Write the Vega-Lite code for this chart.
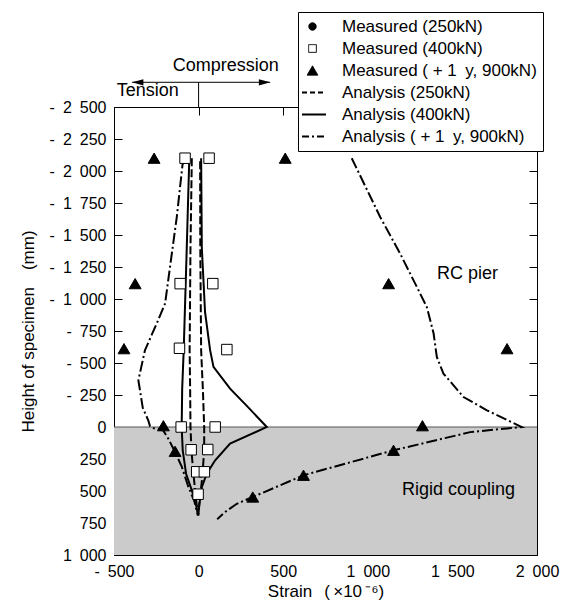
{
  "$schema": "https://vega.github.io/schema/vega-lite/v6.json",
  "width": 423,
  "height": 448,
  "autosize": "none",
  "padding": {"left": 114, "top": 107, "right": 36, "bottom": 55},
  "config": {
    "view": {"stroke": null},
    "font": "Liberation Sans",
    "axis": {"grid": false, "domainColor": "black", "tickColor": "black", "labelColor": "black", "titleColor": "black", "domainWidth": 1, "tickWidth": 1, "zindex": 1, "labelFont": "Liberation Sans", "titleFont": "Liberation Sans", "labelFontSize": 16, "titleFontSize": 17, "titleFontWeight": "normal", "labelFlush": false, "labelOverlap": false}
  },
  "datasets": {
    "region": [{"x1": -500, "x2": 2000, "y1": 0, "y2": 1000}],
    "zero": [{"x1": -500, "x2": 2000, "y": 0}],
    "pts": [
      {"series": "Measured (400kN)", "x": -80, "y": -2100},
      {"series": "Measured (400kN)", "x": 62, "y": -2100},
      {"series": "Measured (400kN)", "x": -109, "y": -1120},
      {"series": "Measured (400kN)", "x": 84, "y": -1120},
      {"series": "Measured (400kN)", "x": -113, "y": -615},
      {"series": "Measured (400kN)", "x": 167, "y": -605},
      {"series": "Measured (400kN)", "x": -103, "y": 0},
      {"series": "Measured (400kN)", "x": 98, "y": 0},
      {"series": "Measured (400kN)", "x": -44, "y": 178},
      {"series": "Measured (400kN)", "x": 54, "y": 176},
      {"series": "Measured (400kN)", "x": -11, "y": 350},
      {"series": "Measured (400kN)", "x": 34, "y": 350},
      {"series": "Measured (400kN)", "x": -3, "y": 525},
      {"series": "Measured ( + 1\u2002y, 900kN)", "x": -263, "y": -2100},
      {"series": "Measured ( + 1\u2002y, 900kN)", "x": 512, "y": -2100},
      {"series": "Measured ( + 1\u2002y, 900kN)", "x": -375, "y": -1120},
      {"series": "Measured ( + 1\u2002y, 900kN)", "x": 1123, "y": -1120},
      {"series": "Measured ( + 1\u2002y, 900kN)", "x": -441, "y": -612},
      {"series": "Measured ( + 1\u2002y, 900kN)", "x": 1823, "y": -612},
      {"series": "Measured ( + 1\u2002y, 900kN)", "x": -208, "y": -10},
      {"series": "Measured ( + 1\u2002y, 900kN)", "x": 1323, "y": -10},
      {"series": "Measured ( + 1\u2002y, 900kN)", "x": -139, "y": 190},
      {"series": "Measured ( + 1\u2002y, 900kN)", "x": 1152, "y": 182},
      {"series": "Measured ( + 1\u2002y, 900kN)", "x": 620, "y": 377},
      {"series": "Measured ( + 1\u2002y, 900kN)", "x": 320, "y": 547}
    ],
    "lines": [
      {"s": "A250", "b": "a", "i": 1, "x": -40, "y": -2100},
      {"s": "A250", "b": "a", "i": 2, "x": -48, "y": -1400},
      {"s": "A250", "b": "a", "i": 3, "x": -53, "y": -600},
      {"s": "A250", "b": "a", "i": 4, "x": -50, "y": -300},
      {"s": "A250", "b": "a", "i": 5, "x": -48, "y": 0},
      {"s": "A250", "b": "a", "i": 6, "x": -42, "y": 190},
      {"s": "A250", "b": "a", "i": 7, "x": -28, "y": 400},
      {"s": "A250", "b": "a", "i": 8, "x": -12, "y": 600},
      {"s": "A250", "b": "a", "i": 9, "x": -2, "y": 690},
      {"s": "A250", "b": "a", "i": 10, "x": 4, "y": 600},
      {"s": "A250", "b": "a", "i": 11, "x": 22, "y": 390},
      {"s": "A250", "b": "a", "i": 12, "x": 33, "y": 180},
      {"s": "A250", "b": "a", "i": 13, "x": 33, "y": 0},
      {"s": "A250", "b": "a", "i": 14, "x": 25, "y": -300},
      {"s": "A250", "b": "a", "i": 15, "x": 15, "y": -600},
      {"s": "A250", "b": "a", "i": 16, "x": 10, "y": -1400},
      {"s": "A250", "b": "a", "i": 17, "x": 9, "y": -2100},
      {"s": "A400", "b": "a", "i": 1, "x": -55, "y": -2100},
      {"s": "A400", "b": "a", "i": 2, "x": -70, "y": -1400},
      {"s": "A400", "b": "a", "i": 3, "x": -88, "y": -600},
      {"s": "A400", "b": "a", "i": 4, "x": -97, "y": -300},
      {"s": "A400", "b": "a", "i": 5, "x": -100, "y": 0},
      {"s": "A400", "b": "a", "i": 6, "x": -94, "y": 180},
      {"s": "A400", "b": "a", "i": 7, "x": -74, "y": 365},
      {"s": "A400", "b": "a", "i": 8, "x": -40, "y": 495},
      {"s": "A400", "b": "a", "i": 9, "x": -18, "y": 590},
      {"s": "A400", "b": "a", "i": 10, "x": -2, "y": 690},
      {"s": "A400", "b": "a", "i": 11, "x": 5, "y": 600},
      {"s": "A400", "b": "a", "i": 12, "x": 19, "y": 470},
      {"s": "A400", "b": "a", "i": 13, "x": 48, "y": 365},
      {"s": "A400", "b": "a", "i": 14, "x": 98, "y": 260},
      {"s": "A400", "b": "a", "i": 15, "x": 186, "y": 130},
      {"s": "A400", "b": "a", "i": 16, "x": 403, "y": 0},
      {"s": "A400", "b": "a", "i": 17, "x": 285, "y": -165},
      {"s": "A400", "b": "a", "i": 18, "x": 186, "y": -300},
      {"s": "A400", "b": "a", "i": 19, "x": 88, "y": -470},
      {"s": "A400", "b": "a", "i": 20, "x": 68, "y": -600},
      {"s": "A400", "b": "a", "i": 21, "x": 38, "y": -900},
      {"s": "A400", "b": "a", "i": 22, "x": 19, "y": -1400},
      {"s": "A400", "b": "a", "i": 23, "x": 15, "y": -2100},
      {"s": "A900", "b": "L", "i": 1, "x": -75, "y": -2100},
      {"s": "A900", "b": "L", "i": 2, "x": -95, "y": -2050},
      {"s": "A900", "b": "L", "i": 3, "x": -129, "y": -1640},
      {"s": "A900", "b": "L", "i": 4, "x": -169, "y": -1250},
      {"s": "A900", "b": "L", "i": 5, "x": -198, "y": -965},
      {"s": "A900", "b": "L", "i": 6, "x": -247, "y": -810},
      {"s": "A900", "b": "L", "i": 7, "x": -317, "y": -600},
      {"s": "A900", "b": "L", "i": 8, "x": -356, "y": -365},
      {"s": "A900", "b": "L", "i": 9, "x": -330, "y": -150},
      {"s": "A900", "b": "L", "i": 10, "x": -297, "y": -50},
      {"s": "A900", "b": "L", "i": 11, "x": -287, "y": -5},
      {"s": "A900", "b": "L", "i": 12, "x": -265, "y": 10},
      {"s": "A900", "b": "L", "i": 13, "x": -238, "y": 15},
      {"s": "A900", "b": "L", "i": 14, "x": -210, "y": 25},
      {"s": "A900", "b": "L", "i": 15, "x": -179, "y": 91},
      {"s": "A900", "b": "L", "i": 16, "x": -139, "y": 195},
      {"s": "A900", "b": "L", "i": 17, "x": -99, "y": 312},
      {"s": "A900", "b": "L", "i": 18, "x": -60, "y": 469},
      {"s": "A900", "b": "L", "i": 19, "x": -25, "y": 580},
      {"s": "A900", "b": "L", "i": 20, "x": -5, "y": 690},
      {"s": "A900", "b": "R", "i": 1, "x": 905, "y": -2100},
      {"s": "A900", "b": "R", "i": 2, "x": 1073, "y": -1641},
      {"s": "A900", "b": "R", "i": 3, "x": 1191, "y": -1355},
      {"s": "A900", "b": "R", "i": 4, "x": 1290, "y": -1094},
      {"s": "A900", "b": "R", "i": 5, "x": 1349, "y": -937},
      {"s": "A900", "b": "R", "i": 6, "x": 1389, "y": -730},
      {"s": "A900", "b": "R", "i": 7, "x": 1408, "y": -547},
      {"s": "A900", "b": "R", "i": 8, "x": 1447, "y": -417},
      {"s": "A900", "b": "R", "i": 9, "x": 1566, "y": -234},
      {"s": "A900", "b": "R", "i": 10, "x": 1704, "y": -130},
      {"s": "A900", "b": "R", "i": 11, "x": 1910, "y": 0},
      {"s": "A900", "b": "R", "i": 12, "x": 1605, "y": 40},
      {"s": "A900", "b": "R", "i": 13, "x": 1152, "y": 182},
      {"s": "A900", "b": "R", "i": 14, "x": 620, "y": 377},
      {"s": "A900", "b": "R", "i": 15, "x": 320, "y": 547},
      {"s": "A900", "b": "R", "i": 16, "x": 226, "y": 600},
      {"s": "A900", "b": "R", "i": 17, "x": 157, "y": 664},
      {"s": "A900", "b": "R", "i": 18, "x": 110, "y": 720}
    ],
    "notes": [
      {"x": 160, "y": -2818, "t": "Compression"},
      {"x": -300, "y": -2622, "t": "Tension"},
      {"x": 1589, "y": -1193, "t": "RC pier"},
      {"x": 1536, "y": 494, "t": "Rigid coupling"}
    ],
    "arrow": [
      {"x": -393, "x2": 423, "y": -2693, "y2": -2693},
      {"x": 0, "x2": 0, "y": -2693, "y2": -2500}
    ],
    "heads": [
      {"x": -360, "y": -2693, "d": "L"},
      {"x": 390, "y": -2693, "d": "R"}
    ]
  },
  "layer": [
    {
      "data": {"name": "region"},
      "mark": {"type": "rect", "fill": "#cbcbcb"},
      "encoding": {
        "x": {"field": "x1", "type": "quantitative", "scale": {"domain": [-500, 2000], "nice": false, "zero": false},
          "axis": {"orient": "bottom", "values": [-500, 0, 500, 1000, 1500, 2000], "tickSize": -8, "labelPadding": 16, "titlePadding": 4,
            "labelExpr": "(datum.value < 0 ? '-\u2002' : '') + replace(format(abs(datum.value), ','), ',', '\u2002')",
            "title": "Strain\u2002\u2009(\u2009\u00d710\u2009\u207b\u2076)"}},
        "x2": {"field": "x2"},
        "y": {"field": "y1", "type": "quantitative", "scale": {"domain": [-2500, 1000], "nice": false, "zero": false, "reverse": true},
          "axis": {"orient": "left", "values": [-2500, -2250, -2000, -1750, -1500, -1250, -1000, -750, -500, -250, 0, 250, 500, 750, 1000], "tickSize": -8, "labelPadding": 16, "titlePadding": 12,
            "labelExpr": "(datum.value < 0 ? '-\u2002' : '') + replace(format(abs(datum.value), ','), ',', '\u2002')",
            "title": "Height of specimen\u2003(mm)"}},
        "y2": {"field": "y2"}
      }
    },
    {
      "data": {"name": "zero"},
      "mark": {"type": "rule", "color": "#555555", "strokeWidth": 1},
      "encoding": {
        "x": {"field": "x1", "type": "quantitative", "scale": {"domain": [-500, 2000], "nice": false, "zero": false},
          "axis": {"orient": "top", "values": [-500, 0, 500, 1000, 1500, 2000], "tickSize": -8, "labels": false, "title": null}},
        "x2": {"field": "x2"},
        "y": {"field": "y", "type": "quantitative", "scale": {"domain": [-2500, 1000], "nice": false, "zero": false, "reverse": true},
          "axis": {"orient": "right", "values": [-2500, -2250, -2000, -1750, -1500, -1250, -1000, -750, -500, -250, 0, 250, 500, 750, 1000], "tickSize": -8, "labels": false, "title": null}}
      }
    },
    {
      "data": {"name": "lines"},
      "transform": [{"filter": "datum.s == 'A250'"}],
      "mark": {"type": "line", "color": "black", "strokeWidth": 2, "strokeDash": [8, 3]},
      "encoding": {
        "x": {"field": "x", "type": "quantitative", "axis": null},
        "y": {"field": "y", "type": "quantitative", "axis": null},
        "detail": {"field": "b"},
        "order": {"field": "i", "type": "quantitative"}
      }
    },
    {
      "data": {"name": "lines"},
      "transform": [{"filter": "datum.s == 'A400'"}],
      "mark": {"type": "line", "color": "black", "strokeWidth": 2},
      "encoding": {
        "x": {"field": "x", "type": "quantitative", "axis": null},
        "y": {"field": "y", "type": "quantitative", "axis": null},
        "detail": {"field": "b"},
        "order": {"field": "i", "type": "quantitative"}
      }
    },
    {
      "data": {"name": "lines"},
      "transform": [{"filter": "datum.s == 'A900'"}],
      "mark": {"type": "line", "color": "black", "strokeWidth": 2, "strokeDash": [11, 3, 2, 3]},
      "encoding": {
        "x": {"field": "x", "type": "quantitative", "axis": null},
        "y": {"field": "y", "type": "quantitative", "axis": null},
        "detail": {"field": "b"},
        "order": {"field": "i", "type": "quantitative"}
      }
    },
    {
      "data": {"name": "pts"},
      "mark": {"type": "point", "filled": true, "opacity": 1, "stroke": "black", "strokeWidth": 1},
      "encoding": {
        "x": {"field": "x", "type": "quantitative", "axis": null},
        "y": {"field": "y", "type": "quantitative", "axis": null},
        "fill": {"condition": {"test": "datum.series == 'Measured (400kN)'", "value": "white"}, "value": "black"},
        "size": {"condition": {"test": "datum.series == 'Measured (400kN)'", "value": 110}, "value": 140},
        "shape": {"condition": {"test": "datum.series == 'Measured (400kN)'", "value": "square"}, "value": "triangle-up"}
      }
    },
    {
      "data": {"name": "pts"},
      "transform": [{"filter": "false"}],
      "mark": {"type": "point", "filled": true, "opacity": 1, "stroke": "black"},
      "encoding": {
        "x": {"field": "x", "type": "quantitative", "axis": null},
        "y": {"field": "y", "type": "quantitative", "axis": null},
        "shape": {"field": "series", "type": "nominal",
          "scale": {
            "domain": ["Measured (250kN)", "Measured (400kN)", "Measured ( + 1\u2002y, 900kN)", "Analysis (250kN)", "Analysis (400kN)", "Analysis ( + 1\u2002y, 900kN)"],
            "range": ["circle", "square", "triangle-up", "M-1.4,0H1.8", "M-1.4,0H1.8", "M-1.4,0H1.8"]
          },
          "legend": {
            "orient": "none", "legendX": 184, "legendY": -95, "title": null,
            "padding": 6, "strokeColor": "black", "fillColor": "white", "cornerRadius": 0,
            "labelFontSize": 17, "labelFont": "Liberation Sans", "labelColor": "black",
            "labelOffset": 21, "rowPadding": 4, "labelLimit": 400, "symbolOpacity": 1, "symbolStrokeColor": "black"
          }
        },
        "fill": {"field": "series", "type": "nominal",
          "scale": {
            "domain": ["Measured (250kN)", "Measured (400kN)", "Measured ( + 1\u2002y, 900kN)", "Analysis (250kN)", "Analysis (400kN)", "Analysis ( + 1\u2002y, 900kN)"],
            "range": ["black", "white", "black", "transparent", "transparent", "transparent"]
          }
        },
        "size": {"field": "series", "type": "nominal",
          "scale": {
            "type": "ordinal",
            "domain": ["Measured (250kN)", "Measured (400kN)", "Measured ( + 1\u2002y, 900kN)", "Analysis (250kN)", "Analysis (400kN)", "Analysis ( + 1\u2002y, 900kN)"],
            "range": [55, 60, 115, 225, 225, 225]
          }
        },
        "strokeWidth": {"field": "series", "type": "nominal",
          "scale": {
            "type": "ordinal",
            "domain": ["Measured (250kN)", "Measured (400kN)", "Measured ( + 1\u2002y, 900kN)", "Analysis (250kN)", "Analysis (400kN)", "Analysis ( + 1\u2002y, 900kN)"],
            "range": [1, 1, 1, 2, 2, 2]
          }
        },
        "strokeDash": {"field": "series", "type": "nominal",
          "scale": {
            "domain": ["Measured (250kN)", "Measured (400kN)", "Measured ( + 1\u2002y, 900kN)", "Analysis (250kN)", "Analysis (400kN)", "Analysis ( + 1\u2002y, 900kN)"],
            "range": [[1, 0], [1, 0], [1, 0], [5, 3], [1, 0], [7, 3, 2, 3]]
          }
        }
      }
    },
    {
      "data": {"name": "arrow"},
      "mark": {"type": "rule", "color": "black", "strokeWidth": 1},
      "encoding": {
        "x": {"field": "x", "type": "quantitative", "axis": null},
        "x2": {"field": "x2"},
        "y": {"field": "y", "type": "quantitative", "axis": null},
        "y2": {"field": "y2"}
      }
    },
    {
      "data": {"name": "heads"},
      "mark": {"type": "point", "filled": true, "opacity": 1, "color": "black", "size": 130},
      "encoding": {
        "x": {"field": "x", "type": "quantitative", "axis": null},
        "y": {"field": "y", "type": "quantitative", "axis": null},
        "shape": {"condition": {"test": "datum.d == 'L'", "value": "M-1,0L1,-0.55L1,0.55Z"}, "value": "M1,0L-1,-0.55L-1,0.55Z"}
      }
    },
    {
      "data": {"name": "notes"},
      "mark": {"type": "text", "font": "Liberation Sans", "fontSize": 18, "color": "black", "align": "center", "baseline": "middle"},
      "encoding": {
        "x": {"field": "x", "type": "quantitative", "axis": null},
        "y": {"field": "y", "type": "quantitative", "axis": null},
        "text": {"field": "t"}
      }
    }
  ],
  "resolve": {"axis": {"x": "independent", "y": "independent"}}
}
